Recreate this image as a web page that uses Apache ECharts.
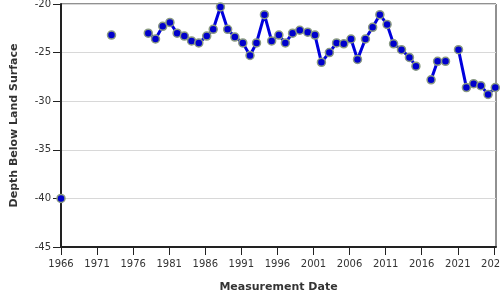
<!DOCTYPE html>
<html>
<head>
<meta charset="utf-8">
<script src="https://cdn.jsdelivr.net/npm/echarts@6/dist/echarts.min.js"></script>
<style>html,body{margin:0;padding:0;background:#fff}#c{width:500px;height:300px}</style>
</head>
<body>
<div id="c"></div>
<script>
// Measurement dates (decimal years); null marks a gap in the record
var years = [1966.0, null, 1973.0, null,
  1978.1, 1979.1, 1980.1, 1981.1, 1982.1, 1983.1, 1984.1, 1985.1, 1986.2, 1987.1,
  1988.1, 1989.1, 1990.1, 1991.2, 1992.2, 1993.1, 1994.2, 1995.2, 1996.2, 1997.1,
  1998.1, 1999.1, 2000.2, 2001.2, 2002.1, 2003.2, 2004.2, 2005.2, 2006.2, 2007.1,
  2008.2, 2009.2, 2010.2, 2011.2, 2012.1, 2013.2, 2014.3, 2015.2, null,
  2017.3, 2018.2, 2019.3, null,
  2021.1, 2022.2, 2023.2, 2024.2, 2025.2, 2026.2];
var depths = [-40.0, null, -23.2, null,
  -23.0, -23.6, -22.3, -21.9, -23.0, -23.3, -23.8, -24.0, -23.3, -22.6,
  -20.3, -22.6, -23.4, -24.0, -25.3, -24.0, -21.1, -23.8, -23.2, -24.0,
  -23.0, -22.7, -22.9, -23.2, -26.0, -25.0, -24.0, -24.1, -23.6, -25.7,
  -23.6, -22.4, -21.1, -22.1, -24.1, -24.7, -25.5, -26.4, null,
  -27.8, -25.9, -25.9, null,
  -24.7, -28.6, -28.2, -28.4, -29.3, -28.6];
var xTitle = 'Measurement Date';
var yTitle = 'Depth Below Land Surface';

var data = years.map(function (y, i) {
  return (y === null || depths[i] === null) ? ['-', '-'] : [y, depths[i]];
});

var font = 'DejaVu Sans';
var chart = echarts.init(document.getElementById('c'), null, {renderer: 'canvas'});
chart.setOption({
  animation: false,
  backgroundColor: '#fff',
  grid: {left: 61, right: 4, top: 4, bottom: 53, containLabel: false, outerBoundsMode: 'none',
    show: true, borderColor: '#222', borderWidth: 1, backgroundColor: 'transparent'},
  xAxis: {
    type: 'value', min: 1966, max: 2026.3, interval: 5,
    name: xTitle, nameLocation: 'middle', nameGap: 35,
    nameTextStyle: {fontFamily: font, fontWeight: 'bold', fontSize: 11, color: '#333'},
    axisLine: {show: true, onZero: false, lineStyle: {color: '#222', width: 2}},
    axisTick: {show: true, length: 8, lineStyle: {color: '#222', width: 1}},
    axisLabel: {fontFamily: font, fontSize: 10, color: '#333', margin: 12, hideOverlap: false,
      showMaxLabel: false,
      formatter: function (v) { return Math.abs(v - Math.round(v)) > 1e-6 ? '' : String(v); }},
    splitLine: {show: false}
  },
  yAxis: {
    type: 'value', min: -45, max: -20, interval: 5,
    name: yTitle, nameLocation: 'middle', nameGap: 41,
    nameTextStyle: {fontFamily: font, fontWeight: 'bold', fontSize: 11, color: '#333'},
    axisLine: {show: true, onZero: false, lineStyle: {color: '#222', width: 2}},
    axisTick: {show: true, length: 8, lineStyle: {color: '#222', width: 1}},
    axisLabel: {fontFamily: font, fontSize: 10, color: '#333', margin: 10},
    splitLine: {show: true, lineStyle: {color: '#d8d8d8', width: 1}}
  },
  series: [{
    type: 'line',
    data: data,
    connectNulls: false,
    clip: false,
    symbol: 'circle',
    symbolSize: 8,
    showSymbol: true,
    lineStyle: {color: '#0000dd', width: 3},
    itemStyle: {color: '#0000cc', borderColor: '#8a9a82', borderWidth: 1.5}
  }]
});
</script>
</body>
</html>
